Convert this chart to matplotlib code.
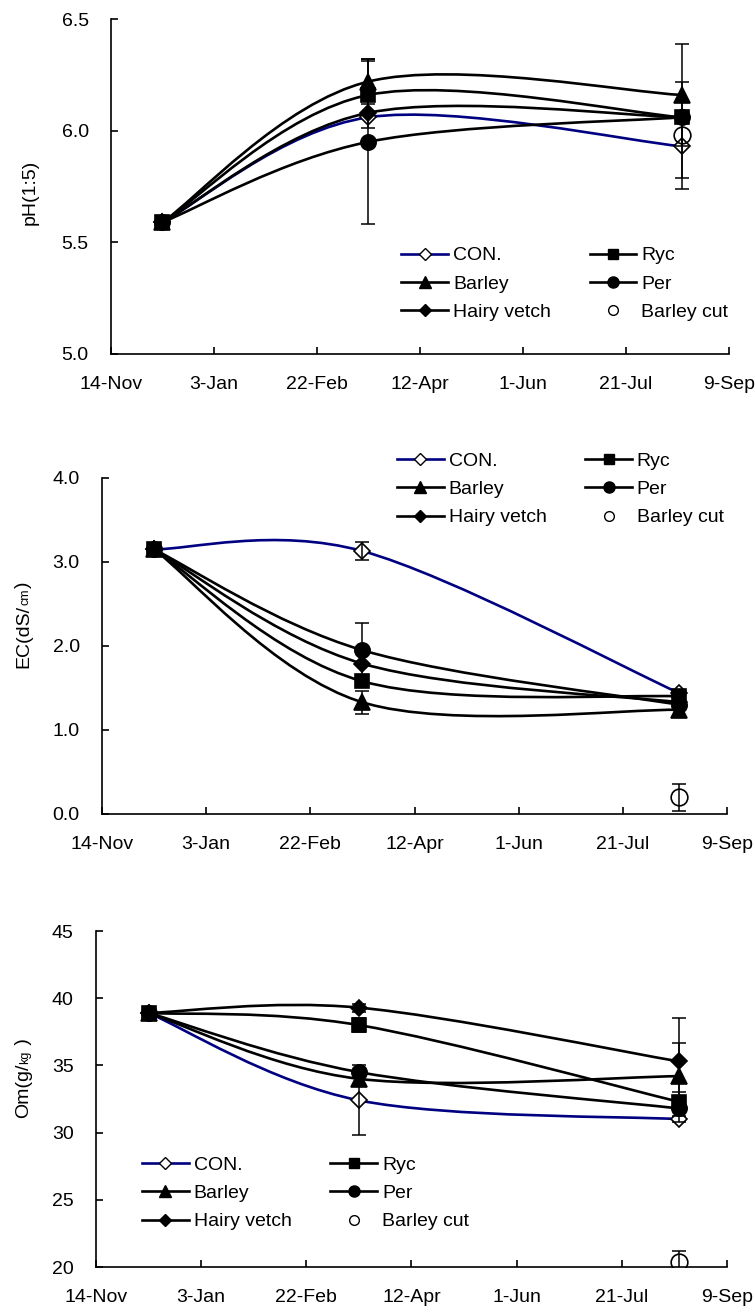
import datetime as dt
import matplotlib
matplotlib.use('Agg')
import matplotlib.pyplot as plt
import matplotlib.dates as mdates
from matplotlib.path import Path
from matplotlib.patches import PathPatch
from matplotlib.lines import Line2D
from matplotlib.ticker import FixedLocator, FormatStrFormatter

plt.rcParams['font.family'] = ['Liberation Sans', 'DejaVu Sans']

# sampling dates and x-axis ticks (every 50 days)
dates = [dt.date(2007, 12, 9), dt.date(2008, 3, 18), dt.date(2008, 8, 17)]
tick_dates = [dt.date(2007, 11, 14), dt.date(2008, 1, 3), dt.date(2008, 2, 22),
              dt.date(2008, 4, 12), dt.date(2008, 6, 1), dt.date(2008, 7, 21),
              dt.date(2008, 9, 9)]
series = ['CON.', 'Ryc', 'Barley', 'Per', 'Hairy vetch']

# pH(1:5)
ph = {'CON.': [5.59, 6.06, 5.93], 'Ryc': [5.59, 6.16, 6.06], 'Barley': [5.59, 6.22, 6.16],
      'Per': [5.59, 5.95, 6.06], 'Hairy vetch': [5.59, 6.08, 6.06]}
ph_err = {'CON.': [0, 0, 0.14], 'Ryc': [0, 0.15, 0], 'Barley': [0, 0.10, 0.23],
          'Per': [0, 0.37, 0], 'Hairy vetch': [0, 0, 0]}
ph_cut, ph_cut_err = 5.98, 0.24

# EC(dS/cm)
ec = {'CON.': [3.15, 3.13, 1.44], 'Ryc': [3.15, 1.58, 1.40], 'Barley': [3.15, 1.33, 1.24],
      'Per': [3.15, 1.95, 1.30], 'Hairy vetch': [3.15, 1.79, 1.33]}
ec_err = {'CON.': [0, 0.11, 0], 'Ryc': [0, 0, 0], 'Barley': [0, 0.14, 0],
          'Per': [0, 0.32, 0], 'Hairy vetch': [0, 0, 0]}
ec_cut, ec_cut_err = 0.20, 0.16

# Om(g/kg)
om = {'CON.': [38.9, 32.4, 31.0], 'Ryc': [38.9, 38.0, 32.3], 'Barley': [38.9, 34.0, 34.2],
      'Per': [38.9, 34.5, 31.8], 'Hairy vetch': [38.9, 39.3, 35.3]}
om_err = {'CON.': [0, 2.6, 0.2], 'Ryc': [0, 0.5, 0.7], 'Barley': [0, 0, 2.5],
          'Per': [0, 0, 0], 'Hairy vetch': [0, 0.3, 3.2]}
om_cut, om_cut_err = 20.4, 0.8

styles = {
    'CON.': dict(color='#000080', marker='D', ms=8.5, mfc='white', lms=6),
    'Ryc': dict(color='black', marker='s', ms=10.5, mfc='black', lms=7.5),
    'Barley': dict(color='black', marker='^', ms=12, mfc='black', lms=8.5),
    'Per': dict(color='black', marker='o', ms=11, mfc='black', lms=8),
    'Hairy vetch': dict(color='black', marker='D', ms=8.5, mfc='black', lms=6),
}

x = mdates.date2num(dates)


def smooth_path(xs, ys):
    # Excel-style smoothed line: cubic Bezier segments through the points
    pts = list(zip(xs, ys))
    n = len(pts)
    verts, codes = [pts[0]], [Path.MOVETO]
    for i in range(n - 1):
        p0, p1 = pts[max(i - 1, 0)], pts[i]
        p2, p3 = pts[i + 1], pts[min(i + 2, n - 1)]
        c1 = (p1[0] + (p2[0] - p0[0]) / 6, p1[1] + (p2[1] - p0[1]) / 6)
        c2 = (p2[0] - (p3[0] - p1[0]) / 6, p2[1] - (p3[1] - p1[1]) / 6)
        verts += [c1, c2, p2]
        codes += [Path.CURVE4] * 3
    return Path(verts, codes)


def ylabel_parts(ax, xpos, ypos, parts):
    prev = ax.text(xpos, ypos, parts[0][0], fontsize=parts[0][1], rotation=90,
                   rotation_mode='anchor', ha='left', va='baseline', transform=ax.transAxes)
    for txt, size in parts[1:]:
        prev = ax.annotate(txt, xy=(xpos, 1), xycoords=('axes fraction', prev), fontsize=size,
                           rotation=90, rotation_mode='anchor', ha='left', va='baseline',
                           annotation_clip=False)


def draw_panel(ax, data, err, cut, cut_err, ylim, yticks, yfmt, leg_anchor):
    for name in series:
        st = styles[name]
        ax.add_patch(PathPatch(smooth_path(x, data[name]), fill=False,
                               edgecolor=st['color'], lw=1.9, zorder=2))
    for name in series:
        st = styles[name]
        ax.plot(x, data[name], ls='none', marker=st['marker'], ms=st['ms'],
                mfc=st['mfc'], mec='black', mew=1.2, zorder=3)
    for name in series:
        ex = [xi for xi, e in zip(x, err[name]) if e > 0]
        ey = [yi for yi, e in zip(data[name], err[name]) if e > 0]
        ee = [e for e in err[name] if e > 0]
        if ee:
            ax.errorbar(ex, ey, yerr=ee, fmt='none', ecolor='black', elinewidth=1.1,
                        capsize=5, capthick=1.1, zorder=4)
    ax.plot([x[2]], [cut], ls='none', marker='o', ms=12, mfc='none', mec='black',
            mew=1.2, zorder=3)
    ax.errorbar([x[2]], [cut], yerr=[cut_err], fmt='none', ecolor='black',
                elinewidth=1.1, capsize=5, capthick=1.1, zorder=4)

    ax.set_xlim(mdates.date2num(tick_dates[0]), mdates.date2num(tick_dates[-1]))
    ax.xaxis.set_major_locator(FixedLocator(mdates.date2num(tick_dates)))
    ax.xaxis.set_major_formatter(mdates.DateFormatter('%-d-%b'))
    ax.set_ylim(*ylim)
    ax.set_yticks(yticks)
    ax.yaxis.set_major_formatter(FormatStrFormatter(yfmt))
    for side in ['top', 'right']:
        ax.spines[side].set_visible(False)
    for side in ['left', 'bottom']:
        ax.spines[side].set_linewidth(1.2)
    ax.tick_params(direction='in', length=5, width=1.2, pad=16, labelsize=14)

    handles = []
    for name in ['CON.', 'Barley', 'Hairy vetch', 'Ryc', 'Per']:
        st = styles[name]
        handles.append(Line2D([], [], color=st['color'], lw=1.9, marker=st['marker'],
                              ms=st['lms'], mfc=st['mfc'], mec='black', mew=1.0, label=name))
    handles.append(Line2D([], [], ls='none', marker='o', ms=7, mfc='white', mec='black',
                          mew=1.0, label='Barley cut'))
    ax.legend(handles=handles, ncol=2, loc='upper left', bbox_to_anchor=leg_anchor,
              frameon=False, fontsize=14, borderpad=0, borderaxespad=0,
              handlelength=2.4, handletextpad=0.25, columnspacing=2.0, labelspacing=0.55)


W, H = 755, 1314
fig = plt.figure(figsize=(W / 100, H / 100), dpi=100)


def px_axes(left, right, top, bottom):
    return fig.add_axes([left / W, (H - bottom) / H, (right - left) / W, (bottom - top) / H])


ax1 = px_axes(111, 729, 19, 354)
draw_panel(ax1, ph, ph_err, ph_cut, ph_cut_err, (5.0, 6.5), [5.0, 5.5, 6.0, 6.5], '%.1f',
           (0.47, 0.32))
ylabel_parts(ax1, -0.123, 0.385, [('pH(1:5)', 14)])

ax2 = px_axes(102, 727, 478, 814)
draw_panel(ax2, ec, ec_err, ec_cut, ec_cut_err, (0.0, 4.0), [0, 1, 2, 3, 4], '%.1f',
           (0.472, 1.077))
ylabel_parts(ax2, -0.118, 0.435, [('EC(dS/', 14), ('cm', 9), (')', 14)])

ax3 = px_axes(96, 727, 931, 1267)
draw_panel(ax3, om, om_err, om_cut, om_cut_err, (20, 45), [20, 25, 30, 35, 40, 45], '%d',
           (0.073, 0.33))
ylabel_parts(ax3, -0.108, 0.443, [('Om(g/', 14), ('kg', 9), (' )', 14)])

fig.savefig('out.png', dpi=100)
